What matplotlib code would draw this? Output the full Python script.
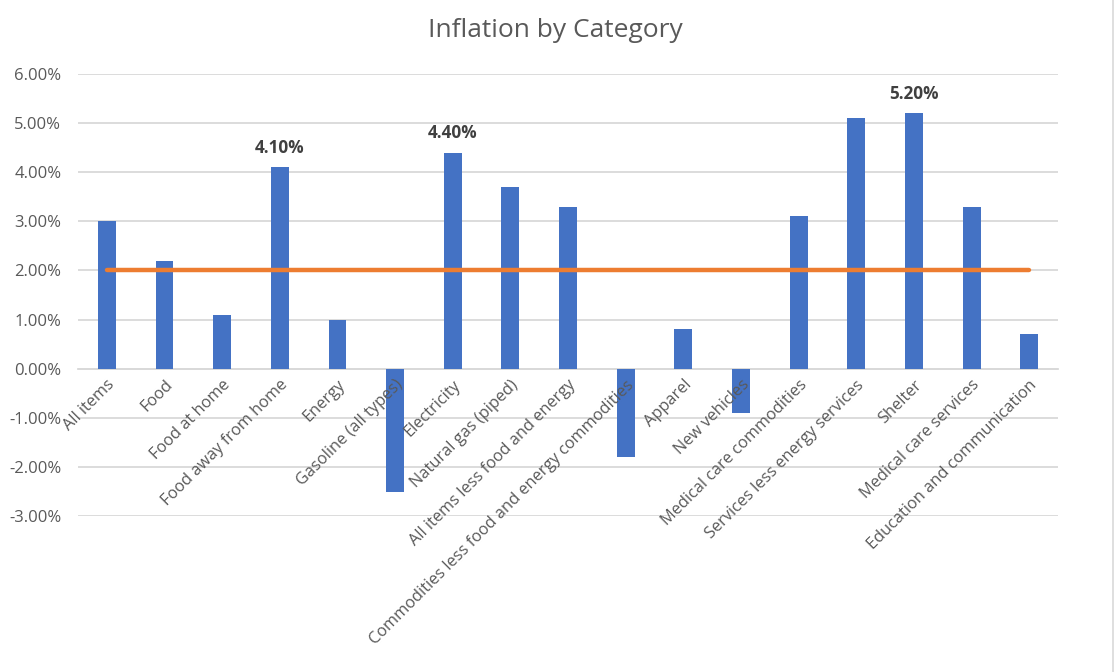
import matplotlib.pyplot as plt
from matplotlib.lines import Line2D
from matplotlib.ticker import FuncFormatter

plt.rcParams['font.family'] = ['Open Sans', 'DejaVu Sans']

categories = ['All items', 'Food', 'Food at home', 'Food away from home', 'Energy',
              'Gasoline (all types)', 'Electricity', 'Natural gas (piped)',
              'All items less food and energy', 'Commodities less food and energy commodities',
              'Apparel', 'New vehicles', 'Medical care commodities',
              'Services less energy services', 'Shelter', 'Medical care services',
              'Education and communication']
inflation = [3.0, 2.2, 1.1, 4.1, 1.0, -2.5, 4.4, 3.7, 3.3, -1.8, 0.8, -0.9, 3.1, 5.1, 5.2, 3.3, 0.7]
target = [2.0] * len(categories)
labeled = ['Food away from home', 'Electricity', 'Shelter']

blue = '#4472C4'
orange = '#ED7D31'
grid_c = '#D9D9D9'
text_c = '#595959'

fig = plt.figure(figsize=(11.18, 6.72), dpi=100)
ax = fig.add_axes([0.0698, 0.232, 0.8766, 0.658])

x = range(len(categories))
ax.bar(x, inflation, width=0.31, color=blue, zorder=2)
ax.plot(x, target, color=orange, linewidth=3.2, solid_capstyle='round', zorder=3)

for i, (c, v) in enumerate(zip(categories, inflation)):
    if c in labeled:
        ax.annotate('{0:.2f}%'.format(v), (i, v), xytext=(0, 14), textcoords='offset points',
                    ha='center', va='center', fontsize=12.3, fontweight='bold', color='#404040')

ax.set_xlim(-0.5, len(categories) - 0.5)
ax.set_ylim(-3, 6)
ax.set_yticks(range(-3, 7))
ax.yaxis.set_major_formatter(FuncFormatter(lambda v, p: '{0:.2f}%'.format(v)))
ax.grid(axis='y', color=grid_c, linewidth=1.3)
# grid below the bars, category labels above them
ax.yaxis.set_zorder(0.5)
ax.xaxis.set_zorder(5)

for s in ['top', 'right', 'left']:
    ax.spines[s].set_visible(False)
ax.spines['bottom'].set_position(('data', 0))
ax.spines['bottom'].set_color(grid_c)
ax.spines['bottom'].set_linewidth(1.3)
ax.spines['bottom'].set_zorder(1)

ax.set_xticks(list(x))
ax.set_xticklabels(categories, rotation=45, ha='right', rotation_mode='anchor',
                   fontsize=11.8, color=text_c)
ax.tick_params(axis='x', length=0, pad=6)
ax.tick_params(axis='y', length=0, pad=12, labelsize=12, labelcolor=text_c)

fig.text(0.497, 0.955, 'Inflation by Category', ha='center', va='center',
         fontsize=19, color=text_c)

fig.add_artist(Line2D([0.9955, 0.9955], [0, 1], color=grid_c, linewidth=1.2))

plt.savefig('out.png', dpi=100)
